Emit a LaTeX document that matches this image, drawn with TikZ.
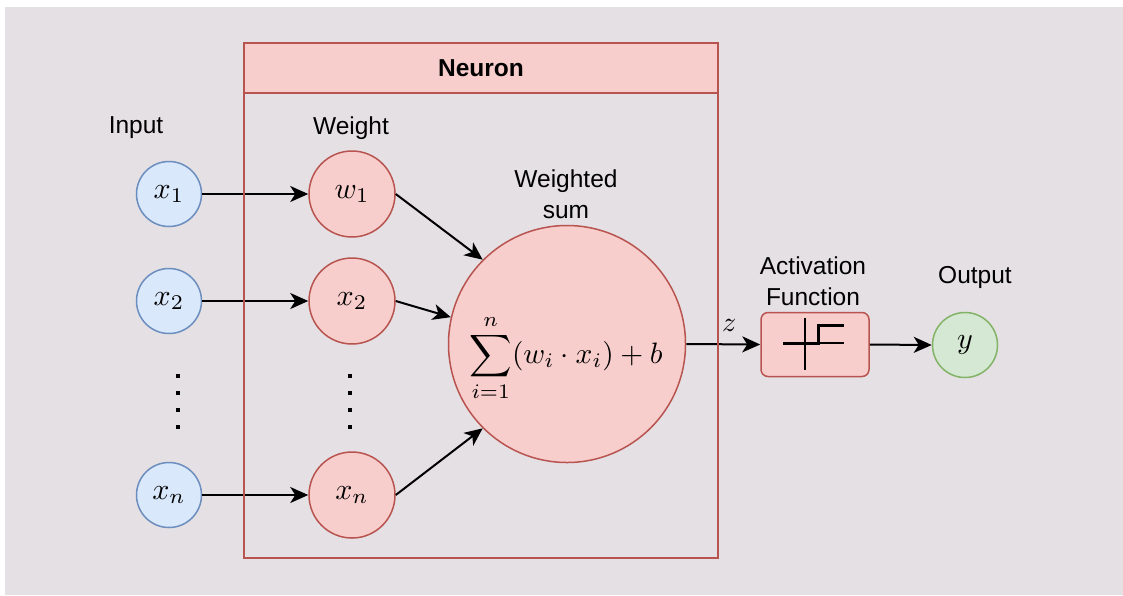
\documentclass[tikz,border=0pt]{standalone}
\usepackage{graphicx}
\usepackage{fontspec}
\setmainfont{Liberation Sans}
\usetikzlibrary{arrows.meta}
\definecolor{bg}{RGB}{229,224,228}
\definecolor{bluefill}{HTML}{DAE8FC}
\definecolor{bluedraw}{HTML}{6C8EBF}
\definecolor{redfill}{HTML}{F8CECC}
\definecolor{reddraw}{HTML}{B85450}
\definecolor{greenfill}{HTML}{D5E8D4}
\definecolor{greendraw}{HTML}{82B366}
\newcommand{\nmath}[1]{\scalebox{3.0}{$#1$}}
\begin{document}
\begin{tikzpicture}[x=1pt,y=-1pt,
  lbl/.style={font=\fontsize{24.5}{31}\selectfont, align=center, inner sep=0pt},
  incirc/.style={circle, draw=bluedraw, fill=bluefill, line width=1.5pt, minimum size=65pt, inner sep=0pt},
  wcirc/.style={circle, draw=reddraw, fill=redfill, line width=1.5pt, minimum size=86pt, inner sep=0pt},
  outcirc/.style={circle, draw=greendraw, fill=greenfill, line width=1.5pt, minimum size=65pt, inner sep=0pt},
  conn/.style={line width=2pt, -{Stealth[length=18pt,width=16pt,inset=5pt]}},
  dotsq/.style={fill=black, minimum size=4pt, inner sep=0pt},
]
\useasboundingbox (0,0) rectangle (1123,595);
\fill[bg] (5,7) rectangle (1123,595);

% input circles
\node[incirc] (x1) at (169,194) {\nmath{x_1}};
\node[incirc] (x2) at (169,301) {\nmath{x_2}};
\node[incirc] (xn) at (169,495) {\nmath{x_n}};

% weight circles
\node[wcirc] (w1) at (352,194) {\nmath{w_1}};
\node[wcirc] (w2) at (352,301) {\nmath{x_2}};
\node[wcirc] (wn) at (352,495) {\nmath{x_n}};

% weighted sum
\node[circle, draw=reddraw, fill=redfill, line width=1.5pt, minimum size=237pt, inner sep=0pt] (sum) at (567,344) {};
\node[inner sep=0pt] (sumtxt) at (566,358) {\scalebox{2.95}{$\displaystyle\sum_{i=1}^{n}(w_i\cdot x_i)+b$}};

% activation
\node[draw=reddraw, fill=redfill, line width=1.5pt, rounded corners=7pt, minimum width=108pt, minimum height=64pt, inner sep=0pt] (act) at (815,344.5) {};
\draw[line width=1.2pt] (783,343) -- (844,343);
\draw[line width=1.2pt] (805,318) -- (805,370);
\draw[line width=3pt] (783,343) -- (818,343) -- (818,325) -- (844,325);

% output
\node[outcirc] (out) at (965,345) {\nmath{y}};

% connectors
\draw[conn] (x1) -- (w1);
\draw[conn] (x2) -- (w2);
\draw[conn] (xn) -- (wn);
\draw[conn] (w1.east) -- (sum.135);
\draw[conn] (w2.east) -- (sum.167);
\draw[conn] (wn.east) -- (sum.225);
\draw[conn] (sum.east) -- node[above=12pt, pos=0.58, inner sep=0pt] (zl) {\scalebox{2.8}{$z$}} (act.west);
\draw[conn] (act.east) -- (out.west);

% neuron container (drawn over the connectors)
\node[draw=reddraw, line width=1.5pt, minimum width=474pt, minimum height=515pt, inner sep=0pt] (neuron) at (481,300.5) {};
\node[draw=reddraw, fill=redfill, line width=1.5pt, minimum width=474pt, minimum height=50pt, inner sep=0pt, font=\fontsize{24.5}{30}\selectfont\bfseries] (hdr) at (481,68) {Neuron};

% labels
\node[lbl] (linput) at (136,128) {Input};
\node[lbl] (lweight) at (351,128) {Weight};
\node[lbl] (lwsum) at (566,194) {Weighted\\sum};
\node[lbl] (lact) at (813,281) {Activation\\Function};
\node[lbl] (lout) at (975,277) {Output};

% dots
\foreach \yy [count=\i] in {376,393,410,427}{
  \node[dotsq] (di\i) at (178,\yy) {};
  \node[dotsq] (dw\i) at (350,\yy) {};
}
\end{tikzpicture}
\end{document}
